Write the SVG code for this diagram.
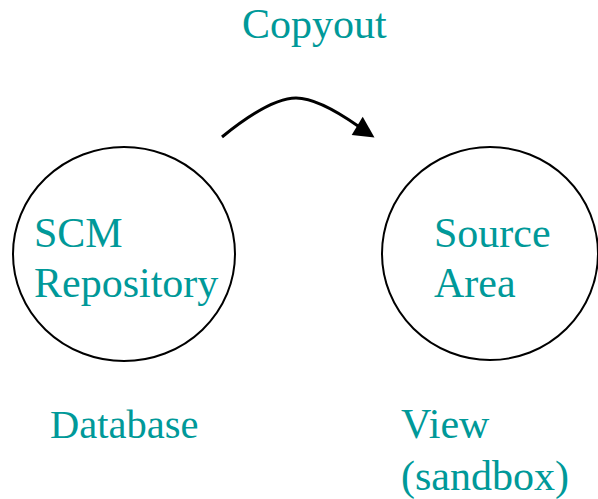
<svg xmlns="http://www.w3.org/2000/svg" width="598" height="499" viewBox="0 0 598 499">
  <style>
    .node { fill: #ffffff; stroke: #000000; stroke-width: 2; }
    .label { font-family: "Liberation Serif", "Times New Roman", serif; font-size: 42px; fill: #009999; }
    .caption { font-family: "Liberation Serif", "Times New Roman", serif; font-size: 40.5px; fill: #009999; }
    .caption-wide { font-family: "Liberation Serif", "Times New Roman", serif; font-size: 42px; fill: #009999; }
    .flow { fill: none; stroke: #000000; stroke-width: 3; }
  </style>
  <rect width="598" height="499" fill="#ffffff"/>

  <text class="label" x="242" y="38">Copyout</text>

  <g id="connectors">
    <path class="flow" d="M222,137 Q270,98 296,98 Q318,98 358,126"/>
    <polygon points="362.7,116.7 351.7,135 374.5,137.5" fill="#000000"/>
  </g>

  <g id="scm-repository">
    <ellipse class="node" cx="124" cy="254" rx="111" ry="107"/>
    <text class="label" x="34" y="247">SCM</text>
    <text class="label" x="34" y="297">Repository</text>
  </g>

  <g id="source-area">
    <ellipse class="node" cx="490" cy="253.5" rx="108" ry="106.5"/>
    <text class="label" x="434" y="247">Source</text>
    <text class="label" x="434" y="297">Area</text>
  </g>

  <text class="caption" x="50" y="438">Database</text>
  <text class="caption-wide" x="401" y="438">View</text>
  <text class="caption-wide" x="401" y="490">(sandbox)</text>
</svg>
